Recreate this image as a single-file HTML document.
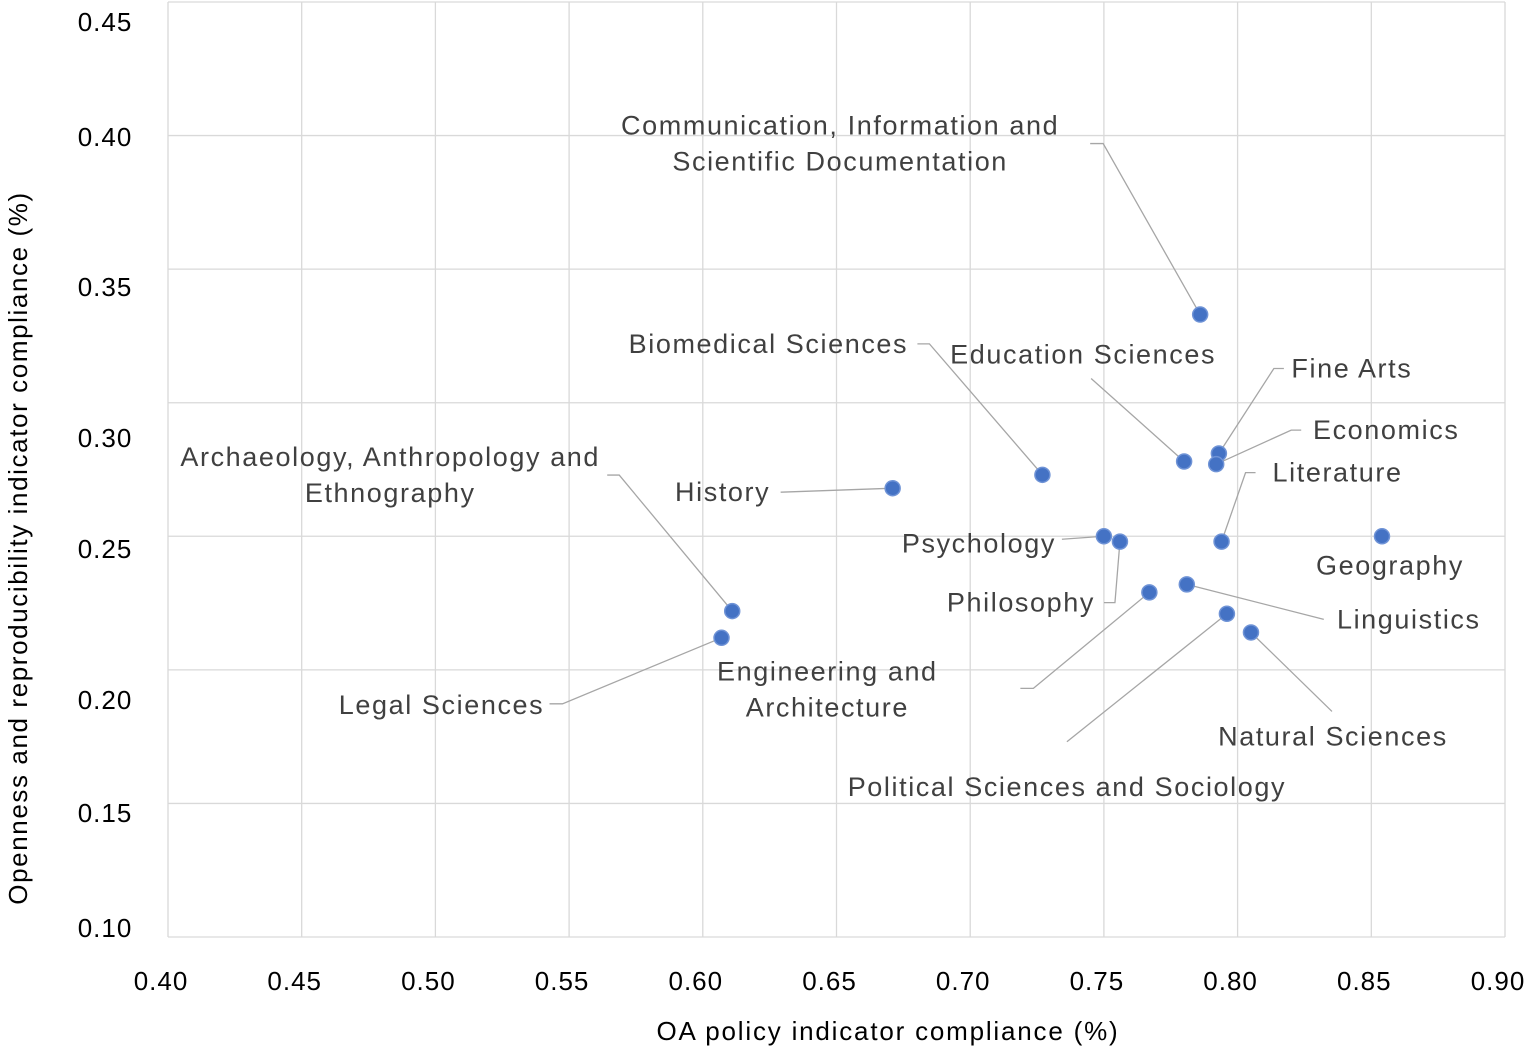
<!DOCTYPE html>
<html><head><meta charset="utf-8"><style>
html,body{margin:0;padding:0;background:#fff;}
svg{display:block;font-family:"Liberation Sans",Arial,sans-serif;}
</style></head><body>
<svg id="chart" width="1529" height="1047" viewBox="0 0 1529 1047"></svg>
<script>
const categories=["Communication, Information and|Scientific Documentation","Biomedical Sciences","Education Sciences","Fine Arts","Economics","History","Psychology","Philosophy","Literature","Geography","Linguistics","Engineering and|Architecture","Political Sciences and Sociology","Natural Sciences","Archaeology, Anthropology and|Ethnography","Legal Sciences"];
const xValues=[0.786,0.727,0.780,0.793,0.792,0.671,0.750,0.756,0.794,0.854,0.781,0.767,0.796,0.805,0.611,0.607];
const yValues=[0.333,0.273,0.278,0.281,0.277,0.268,0.250,0.248,0.248,0.250,0.232,0.229,0.221,0.214,0.222,0.212];
const xTicks=["0.40","0.45","0.50","0.55","0.60","0.65","0.70","0.75","0.80","0.85","0.90"];
const yTicks=["0.10","0.15","0.20","0.25","0.30","0.35","0.40","0.45"];
// label layout offsets (px, relative to point): [labelDx,labelDy,leader points...]
const labelLayout=[
 [-360,-171,[[-110,-171],[-97,-171]]],
 [-274,-131,[[-125,-131],[-113,-131]]],
 [-101,-107,[[-93,-83]]],
 [133,-85,[[65,-85],[55,-85]]],
 [170,-34,[[85,-34],[75,-34]]],
 [-170,4,[[-112,4]]],
 [-125,7,[[-42,3]]],
 [-99,61,[[-16,61],[-5,61]]],
 [116,-69,[[34,-69],[24,-69]]],
 [8,29,null],
 [222,35,[[137,35]]],
 [-322,97,[[-129,96],[-116,96]]],
 [-160,173,[[-160,128]]],
 [82,104,[[81,79]]],
 [-342,-136,[[-125,-136],[-113,-136]]],
 [-280,67,[[-172,66],[-159,66]]]
];
const X0=168,X1=1505,Y0=937,Y1=2;
const xs=v=>X0+(v-0.40)/0.50*(X1-X0);
const ys=v=>Y0-(v-0.10)/0.35*(Y0-Y1);
const NS="http://www.w3.org/2000/svg";
const svg=document.getElementById('chart');
function mk(t,a,p){const e=document.createElementNS(NS,t);for(const k in a)e.setAttribute(k,a[k]);(p||svg).appendChild(e);return e;}
xTicks.forEach((t,i)=>{const v=parseFloat(t);const x=xs(v);
 const g=mk('line',{x1:x,x2:x,y1:Y1,y2:Y0,stroke:'#d9d9d9','stroke-width':1.3});
 
 
 const tx=mk('text',{x:x-7,y:990,'text-anchor':'middle','font-size':26,'letter-spacing':1,fill:'#000'});tx.textContent=t;
 
 
});
const yLabelPos={"0.45":22,"0.40":137,"0.35":287,"0.30":438,"0.25":549,"0.20":700,"0.15":813,"0.10":928};
yTicks.forEach(t=>{const v=parseFloat(t);const y=ys(v);
 const g=mk('line',{x1:X0,x2:X1,y1:y,y2:y,stroke:'#d9d9d9','stroke-width':1.3});
 
 
 const tx=mk('text',{x:105,y:(yLabelPos[t]||y)+9,'text-anchor':'middle','font-size':26,'letter-spacing':1,fill:'#000'});tx.textContent=t;
 
 
});
categories.forEach((c,i)=>{
 const px=xs(xValues[i]),py=ys(yValues[i]);const L=labelLayout[i];
 if(L[2]){const pts=L[2].map(p=>(px+p[0])+','+(py+p[1])).concat([px+','+py]).join(' ');
  const pl=mk('polyline',{points:pts,fill:'none',stroke:'#a6a6a6','stroke-width':1.3});
  
  }
 const lines=c.split('|');
 const tx=mk('text',{'text-anchor':'middle','font-size':27,'letter-spacing':1.6,fill:'#404040'});
 
 
 const n=lines.length;
 lines.forEach((l,k)=>{const ts=mk('tspan',{x:px+L[0],y:py+L[1]+9+(k-(n-1)/2)*36},tx);ts.textContent=l;});
});
categories.forEach((c,i)=>{
 const p=mk('circle',{cx:xs(xValues[i]),cy:ys(yValues[i]),r:7.5,fill:'#4472c4',stroke:'#6f93d6','stroke-width':1.5});
 
 
});
const xt=mk('text',{x:888,y:1040,'text-anchor':'middle','font-size':26,'letter-spacing':1.8,fill:'#000'});xt.textContent='OA policy indicator compliance (%)';


const yt=mk('text',{x:0,y:0,'text-anchor':'middle','font-size':26,'letter-spacing':1.6,fill:'#000',transform:'translate(27,548) rotate(-90)'});yt.textContent='Openness and reproducibility indicator compliance (%)';


</script>
</body></html>
